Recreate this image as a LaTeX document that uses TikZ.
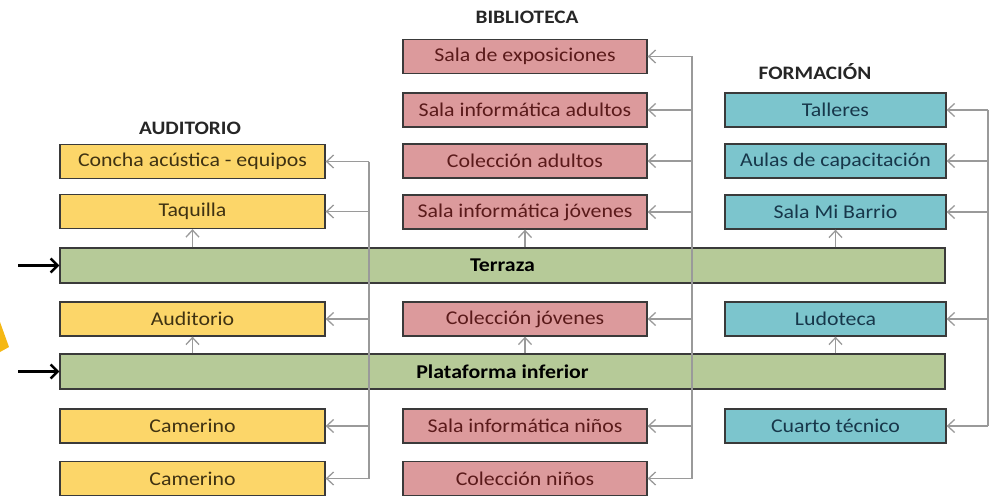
\documentclass[tikz,border=0pt]{standalone}
\usepackage{fontspec}
\setmainfont{Carlito}[FakeStretch=1.12]
\usetikzlibrary{arrows.meta}
\definecolor{yfill}{HTML}{FCD669}
\definecolor{pfill}{HTML}{DC9A9C}
\definecolor{tfill}{HTML}{7CC5CD}
\definecolor{gfill}{HTML}{B6CA98}
\definecolor{ytext}{HTML}{3F3212}
\definecolor{ptext}{HTML}{5A1A1A}
\definecolor{ttext}{HTML}{17374A}
\definecolor{gline}{HTML}{9A9A9A}
\definecolor{bdr}{HTML}{3A3A3A}
\definecolor{frag}{HTML}{F5B814}
\tikzset{
  base/.style={draw=bdr, line width=1.3pt, inner sep=0pt, font=\fontsize{19.5}{22}\selectfont, minimum height=34pt},
  ybox/.style={base, fill=yfill, text=ytext, minimum width=265pt},
  pbox/.style={base, fill=pfill, text=ptext, minimum width=244pt},
  tbox/.style={base, fill=tfill, text=ttext, minimum width=221pt},
  gbox/.style={base, fill=gfill, text=black, minimum width=885pt, minimum height=35pt, font=\fontsize{19.5}{22}\selectfont\bfseries},
  head/.style={font=\fontsize{19}{22}\selectfont\bfseries, text=black!85},
  conn/.style={draw=gline, line width=1.4pt},
  garrow/.style={conn, -{Straight Barb[length=7pt,width=13pt,line width=1.3pt]}},
  barrow/.style={draw=black, line width=2.6pt, -{Straight Barb[length=7pt,width=14pt,line width=2.4pt]}}
}
\begin{document}
\begin{tikzpicture}[x=1pt,y=-1pt]
\useasboundingbox (0,0) rectangle (990,500);
\fill[white] (0,0) rectangle (990,500);
\fill[frag] (0,322) -- (9,347) -- (0,352) -- cycle;

% headings
\node[head] (hA) at (190,128) {AUDITORIO};
\node[head] (hB) at (527,17) {BIBLIOTECA};
\node[head] (hF) at (815,72) {FORMACIÓN};

% green platforms
\node[gbox] (terraza) at (502.5,265.5) {Terraza};
\node[gbox] (plat) at (502.5,371.5) {Plataforma inferior};

% auditorio
\node[ybox] (concha) at (192.5,161.5) {Concha acústica - equipos};
\node[ybox] (taquilla) at (192.5,211.5) {Taquilla};
\node[ybox] (audit) at (192.5,319) {Auditorio};
\node[ybox] (cam1) at (192.5,426) {Camerino};
\node[ybox] (cam2) at (192.5,478.5) {Camerino};

% biblioteca
\node[pbox] (expo) at (525,56.5) {Sala de exposiciones};
\node[pbox] (siad) at (525,110) {Sala informática adultos};
\node[pbox] (cad) at (525,161) {Colección adultos};
\node[pbox] (sijo) at (525,212) {Sala informática jóvenes};
\node[pbox] (cjo) at (525,319) {Colección jóvenes};
\node[pbox] (sini) at (525,426) {Sala informática niños};
\node[pbox] (cni) at (525,478.5) {Colección niños};

% formacion
\node[tbox] (tall) at (835.5,110) {Talleres};
\node[tbox] (aulas) at (835.5,161) {Aulas de capacitación};
\node[tbox] (barrio) at (835.5,212) {Sala Mi Barrio};
\node[tbox] (ludo) at (835.5,319) {Ludoteca};
\node[tbox] (cuarto) at (835.5,426) {Cuarto técnico};

% trunk coordinates
\coordinate (la) at (369,0);
\coordinate (lb) at (692,0);
\coordinate (lf) at (988,0);

% auditorio trunk
\draw[conn] (concha.east -| la) -- (cam2.east -| la);
\foreach \n in {concha,taquilla,audit,cam1,cam2}
  \draw[garrow] (\n.east -| la) -- (\n.east);

% biblioteca trunk
\draw[conn] (expo.east -| lb) -- (cni.east -| lb);
\foreach \n in {expo,siad,cad,sijo,cjo,sini,cni}
  \draw[garrow] (\n.east -| lb) -- (\n.east);

% formacion trunk
\draw[conn] (tall.east -| lf) -- (cuarto.east -| lf);
\foreach \n in {tall,aulas,barrio,ludo,cuarto}
  \draw[garrow] (\n.east -| lf) -- (\n.east);

% up arrows
\draw[garrow] (taquilla.south |- terraza.north) -- (taquilla.south);
\draw[garrow] (sijo.south |- terraza.north) -- (sijo.south);
\draw[garrow] (barrio.south |- terraza.north) -- (barrio.south);
\draw[garrow] (audit.south |- plat.north) -- (audit.south);
\draw[garrow] (cjo.south |- plat.north) -- (cjo.south);
\draw[garrow] (ludo.south |- plat.north) -- (ludo.south);

% entrance arrows
\coordinate (in1) at (18,265.5);
\coordinate (in2) at (18,371.5);
\draw[barrow] (in1) -- (terraza.west);
\draw[barrow] (in2) -- (plat.west);
\end{tikzpicture}
\end{document}
